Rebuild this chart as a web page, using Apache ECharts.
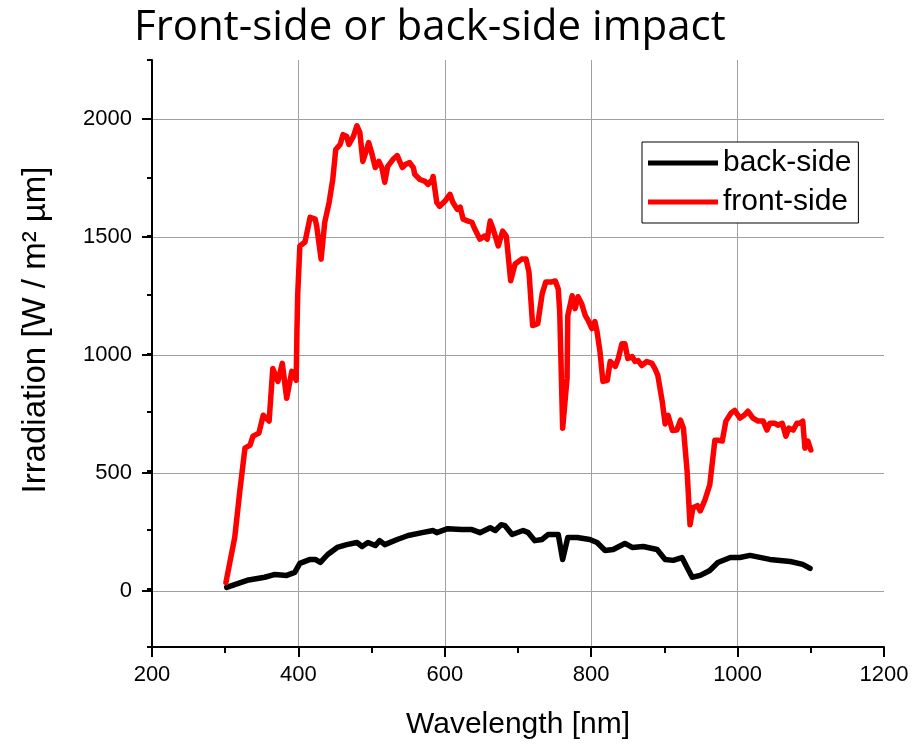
<!DOCTYPE html>
<html>
<head>
<meta charset="utf-8">
<script src="https://cdn.jsdelivr.net/npm/echarts@6/dist/echarts.min.js"></script>
<style>
  html, body { margin: 0; padding: 0; background: #fff; }
  #chart { width: 913px; height: 745px; }
</style>
</head>
<body>
<div id="chart"></div>
<script>
// Spectral irradiance on the front and back of the module
const frontWavelength = [301, 313, 320, 327, 334, 338, 346, 352, 360, 365, 372, 378, 384, 391, 397, 398, 399, 402, 409, 416, 423, 425, 431, 436, 442, 447, 451, 457, 461, 466, 469, 475, 480, 484, 488, 492, 496, 500, 505, 510, 514, 518, 522, 529, 535, 542, 546, 552, 557, 559, 566, 573, 577, 583, 584, 589, 593, 600, 607, 611, 617, 621, 625, 632, 637, 641, 648, 654, 658, 662, 666, 673, 679, 684, 690, 696, 705, 711, 715, 720, 727, 733, 738, 746, 751, 755, 757, 761, 767, 768, 774, 778, 782, 787, 792, 796, 801, 805, 808, 812, 816, 822, 826, 833, 837, 842, 846, 850, 856, 860, 864, 869, 876, 883, 887, 891, 897, 901, 905, 911, 917, 922, 926, 931, 935, 939, 945, 949, 955, 962, 969, 973, 979, 984, 991, 996, 1003, 1009, 1014, 1021, 1028, 1035, 1040, 1044, 1051, 1055, 1061, 1066, 1070, 1076, 1081, 1085, 1089, 1092, 1096, 1100];
const frontIrradiance = [25, 216, 415, 597, 610, 648, 661, 737, 712, 936, 881, 958, 809, 924, 886, 1093, 1246, 1458, 1475, 1580, 1572, 1542, 1402, 1559, 1644, 1742, 1869, 1890, 1932, 1924, 1890, 1924, 1970, 1941, 1818, 1856, 1898, 1856, 1792, 1818, 1792, 1729, 1797, 1826, 1843, 1792, 1805, 1813, 1792, 1763, 1741, 1733, 1720, 1741, 1754, 1644, 1627, 1648, 1678, 1644, 1614, 1623, 1572, 1564, 1559, 1530, 1487, 1500, 1487, 1564, 1530, 1458, 1521, 1500, 1310, 1381, 1402, 1402, 1347, 1119, 1127, 1254, 1305, 1305, 1309, 1275, 1178, 682, 894, 1161, 1246, 1191, 1242, 1212, 1161, 1140, 1106, 1136, 1093, 1008, 881, 886, 966, 945, 979, 1042, 1042, 979, 987, 966, 970, 949, 966, 958, 936, 907, 797, 700, 737, 672, 674, 716, 682, 500, 271, 343, 352, 330, 373, 441, 631, 631, 627, 712, 746, 758, 725, 737, 754, 725, 712, 712, 674, 703, 703, 695, 703, 648, 682, 674, 703, 703, 712, 597, 627, 589];

const backWavelength = [302, 330, 354, 368, 384, 395, 402, 416, 423, 430, 440, 453, 466, 480, 487, 495, 505, 511, 518, 535, 550, 569, 584, 589, 604, 623, 637, 648, 662, 669, 677, 682, 692, 707, 714, 723, 733, 741, 755, 761, 768, 781, 798, 808, 819, 830, 846, 856, 871, 890, 901, 912, 924, 931, 938, 949, 962, 973, 990, 1003, 1017, 1044, 1072, 1089, 1099];
const backIrradiance = [4, 34, 47, 59, 55, 68, 106, 123, 123, 110, 144, 174, 186, 195, 178, 195, 182, 203, 186, 208, 225, 237, 246, 237, 254, 250, 250, 237, 258, 246, 271, 267, 229, 246, 237, 203, 208, 229, 229, 123, 216, 216, 208, 195, 161, 165, 191, 174, 178, 165, 123, 119, 131, 89, 47, 55, 76, 110, 131, 131, 140, 123, 114, 102, 85];

const seriesNames = ['back-side', 'front-side'];
const xTicks = [200, 400, 600, 800, 1000, 1200];
const yTicks = [0, 500, 1000, 1500, 2000];

const zip = (xs, ys) => xs.map((x, i) => [x, ys[i]]);

const LABEL_FONT = '"Liberation Sans", Arial, sans-serif';
const PLOT = { left: 152, right: 29, top: 60, height: 590 };
const Y_MIN = -250, Y_MAX = 2250;
const pxPerUnit = PLOT.height / (Y_MAX - Y_MIN);
const plain = v => String(v);

const chart = echarts.init(document.getElementById('chart'), null, { renderer: 'canvas' });

chart.setOption({
  animation: false,
  backgroundColor: '#ffffff',
  title: {
    text: 'Front-side or back-side impact',
    left: 129,
    top: 2,
    textStyle: { fontFamily: '"Open Sans", Lato, sans-serif', fontSize: 42, fontWeight: 'normal', color: '#000' }
  },
  legend: {
    data: seriesNames,
    orient: 'vertical',
    left: 642,
    top: 142,
    icon: 'rect',
    itemWidth: 70,
    itemHeight: 5,
    itemGap: 9,
    padding: [6, 7, 6, 6],
    borderColor: '#000',
    borderWidth: 1,
    backgroundColor: '#fff',
    textStyle: { fontFamily: LABEL_FONT, fontSize: 30, color: '#000' }
  },
  grid: [
    // main plot area, carries minor ticks and the data
    { left: PLOT.left, right: PLOT.right, top: PLOT.top, height: PLOT.height, containLabel: false },
    // 0..2000 band, carries the labelled ticks and horizontal grid lines
    {
      left: PLOT.left, right: PLOT.right,
      top: PLOT.top + (Y_MAX - 2000) * pxPerUnit,
      height: 2000 * pxPerUnit,
      containLabel: false
    }
  ],
  xAxis: [
    {
      gridIndex: 0,
      type: 'value',
      min: xTicks[0], max: xTicks[xTicks.length - 1], interval: 200,
      name: 'Wavelength [nm]',
      nameLocation: 'middle',
      nameGap: 63,
      nameTextStyle: { fontFamily: LABEL_FONT, fontSize: 30, color: '#000' },
      axisLine: { show: true, onZero: false, lineStyle: { color: '#000', width: 2 } },
      axisTick: { show: true, inside: false, length: 10, lineStyle: { color: '#000', width: 2 } },
      minorTick: { show: true, splitNumber: 2, length: 6, lineStyle: { color: '#000', width: 2 } },
      axisLabel: { margin: 17, fontFamily: LABEL_FONT, fontSize: 22, color: '#000', formatter: plain },
      splitLine: { show: true, showMinLine: false, showMaxLine: false, lineStyle: { color: '#a0a0a0', width: 1 } }
    },
    { gridIndex: 1, type: 'value', min: 200, max: 1200, show: false }
  ],
  yAxis: [
    {
      gridIndex: 0,
      type: 'value',
      min: Y_MIN, max: Y_MAX, interval: 250,
      axisLine: { show: true, onZero: false, lineStyle: { color: '#000', width: 2 } },
      axisTick: { show: true, inside: false, length: 5, lineStyle: { color: '#000', width: 2 } },
      axisLabel: { show: false },
      splitLine: { show: false }
    },
    {
      gridIndex: 1,
      type: 'value',
      min: yTicks[0], max: yTicks[yTicks.length - 1], interval: 500,
      name: 'Irradiation [W / m² µm]',
      nameLocation: 'middle',
      nameGap: 100,
      nameTextStyle: { fontFamily: LABEL_FONT, fontSize: 33, color: '#000', padding: [0, 0, 0, 50] },
      axisLine: { show: false },
      axisTick: { show: true, inside: false, length: 10, lineStyle: { color: '#000', width: 2 } },
      axisLabel: { margin: 20, fontFamily: LABEL_FONT, fontSize: 22, color: '#000', formatter: plain },
      splitLine: { show: true, lineStyle: { color: '#a0a0a0', width: 1 } }
    }
  ],
  series: [
    {
      name: seriesNames[0],
      type: 'line',
      xAxisIndex: 0, yAxisIndex: 0,
      data: zip(backWavelength, backIrradiance),
      showSymbol: false,
      smooth: false,
      lineStyle: { color: '#000000', width: 5.5, join: 'round', cap: 'round' },
      itemStyle: { color: '#000000' },
      z: 3
    },
    {
      name: seriesNames[1],
      type: 'line',
      xAxisIndex: 0, yAxisIndex: 0,
      data: zip(frontWavelength, frontIrradiance),
      showSymbol: false,
      smooth: false,
      lineStyle: { color: '#ff0000', width: 5.5, join: 'round', cap: 'round' },
      itemStyle: { color: '#ff0000' },
      z: 3
    }
  ]
});
</script>
</body>
</html>
